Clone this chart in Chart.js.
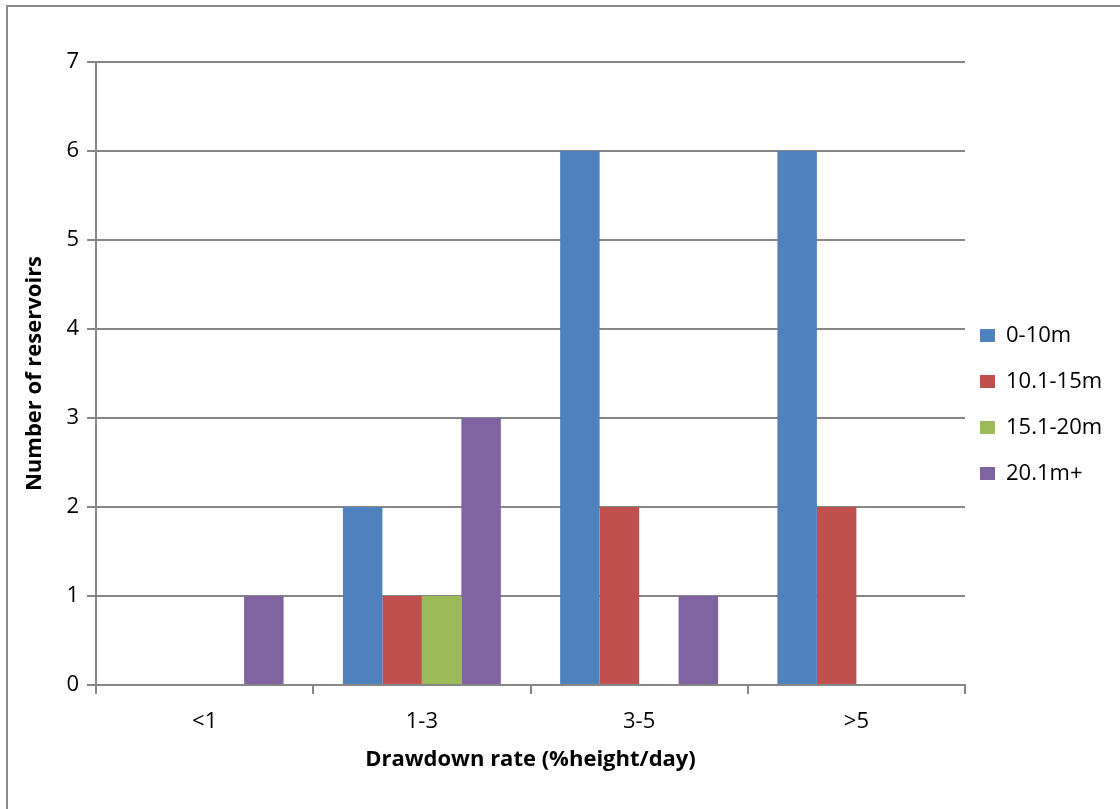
<!DOCTYPE html>
<html lang="en">
<head>
    <meta charset="UTF-8">
    <title>Reservoir drawdown</title>
    <script src="https://cdn.jsdelivr.net/npm/chart.js"></script>
    <style>
        html, body { margin: 0; padding: 0; background: #fff; }
        #wrap { width: 1120px; height: 809px; position: relative; }
    </style>
</head>
<body>
    <div id="wrap"><canvas id="chart"></canvas></div>

    <script>
        // categories and series
        const categories = ["<1", "1-3", "3-5", ">5"];
        const depth0to10 = [0, 2, 6, 6];
        const depth10to15 = [0, 1, 2, 2];
        const depth15to20 = [0, 1, 0, 0];
        const depth20plus = [1, 3, 1, 0];
        const yTicks = [0, 1, 2, 3, 4, 5, 6, 7];

        const gridGray = "#868686";
        const fontFamily = "'Open Sans', sans-serif";

        // grey frame round the whole chart (only left/top show in the shot)
        const framePlugin = {
            id: "frame",
            beforeDraw(chart) {
                const ctx = chart.ctx;
                ctx.save();
                ctx.fillStyle = "#fff";
                ctx.fillRect(0, 0, chart.width, chart.height);
                ctx.strokeStyle = "#8c8c8c";
                ctx.lineWidth = 2;
                ctx.strokeRect(7, 6, 2000, 2000);
                ctx.restore();
            }
        };

        // nudge the legend so it sits centred on the whole frame, like Excel
        const legendNudge = {
            id: "legendNudge",
            afterUpdate(chart) {
                const lg = chart.legend;
                if (!lg) return;
                lg.left -= 9; lg.right -= 9;
                lg.top -= 31; lg.bottom -= 31;
            }
        };

        new Chart(document.getElementById("chart").getContext("2d"), {
            type: "bar",
            data: {
                labels: categories,
                datasets: [
                    { label: "0-10m", data: depth0to10, backgroundColor: "#4F81BD" },
                    { label: "10.1-15m", data: depth10to15, backgroundColor: "#C0504D" },
                    { label: "15.1-20m", data: depth15to20, backgroundColor: "#9BBB59" },
                    { label: "20.1m+", data: depth20plus, backgroundColor: "#8064A2" }
                ]
            },
            options: {
                responsive: true,
                maintainAspectRatio: false,
                animation: false,
                datasets: {
                    bar: { categoryPercentage: 0.727, barPercentage: 1.0 }
                },
                layout: { padding: { top: 62, left: 0, right: 0, bottom: 0 } },
                plugins: {
                    legend: {
                        position: "right",
                        maxWidth: 155,
                        labels: {
                            boxWidth: 15,
                            boxHeight: 13,
                            padding: 24,
                            color: "#000",
                            font: { family: fontFamily, size: 22 }
                        }
                    },
                    tooltip: { enabled: false }
                },
                scales: {
                    x: {
                        grid: {
                            offset: true,
                            drawOnChartArea: false,
                            drawTicks: true,
                            tickLength: 9,
                            color: gridGray,
                            lineWidth: 2
                        },
                        border: { color: gridGray, width: 2 },
                        ticks: { color: "#000", font: { family: fontFamily, size: 22 }, padding: 15 },
                        title: {
                            display: true,
                            text: "Drawdown rate (%height/day)",
                            color: "#000",
                            font: { family: fontFamily, size: 22, weight: "bold" },
                            padding: { top: 0, bottom: 36 }
                        },
                        afterFit(scale) { scale.height = 124; }
                    },
                    y: {
                        min: 0,
                        max: 7,
                        afterBuildTicks(scale) {
                            scale.ticks = yTicks.map(v => ({ value: v }));
                        },
                        grid: {
                            color: gridGray,
                            lineWidth: 2,
                            drawTicks: true,
                            tickLength: 9
                        },
                        border: { color: gridGray, width: 2 },
                        ticks: { color: "#000", font: { family: fontFamily, size: 22 }, padding: 8 },
                        title: {
                            display: true,
                            text: "Number of reservoirs",
                            color: "#000",
                            font: { family: fontFamily, size: 22, weight: "bold" },
                            padding: { top: 22, bottom: 0 }
                        },
                        afterFit(scale) { scale.width = 96; }
                    }
                }
            },
            plugins: [framePlugin, legendNudge]
        });
    </script>
</body>
</html>
